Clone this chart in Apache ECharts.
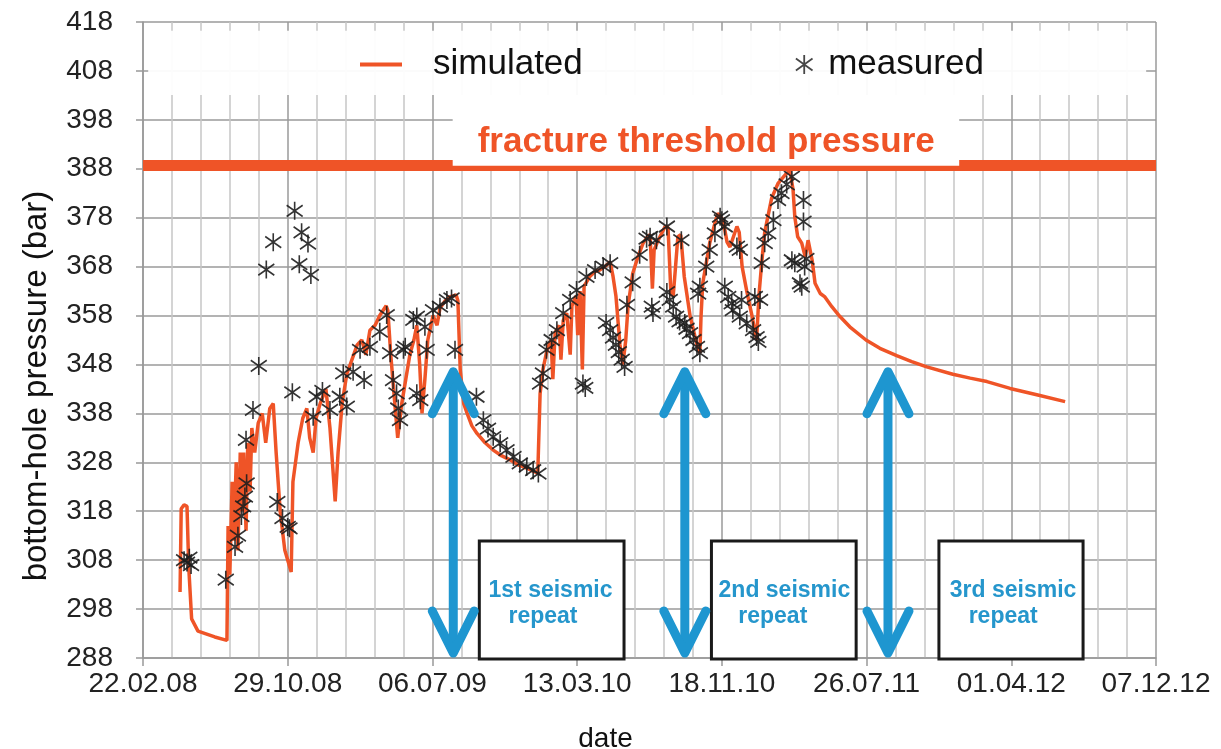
<!DOCTYPE html>
<html><head><meta charset="utf-8">
<script src="https://cdn.jsdelivr.net/npm/echarts@6/dist/echarts.min.js"></script>
<style>html,body{margin:0;padding:0;background:#fff}#c{width:1221px;height:749px}</style>
</head><body><div id="c"></div>
<script>
// x values are days since 22.02.08
const xTickLabels = ['22.02.08','29.10.08','06.07.09','13.03.10','18.11.10','26.07.11','01.04.12','07.12.12'];
const xMin = 0, xMax = 1750, xStep = 250;
const yMin = 288, yMax = 418, yStep = 10;

const simulated = [[64,301.5],[66,318.5],[71,319.3],[76,319],[79,306.6],[84,296],[95,293.5],[124,292.3],[145,291.6],[147,315],[150,305],[154,324],[157,312],[161,328],[164,310],[168,330],[171,318],[174,330],[178,314],[181,332],[185,322],[188,335],[193,330],[199,336],[206,338],[212,332],[219,339],[225,340],[230,330],[237,318],[245,310],[256,305.6],[259,324],[268,332],[276,337],[283,339],[288,333],[294,330],[299,337],[306,340],[316,343],[323,335],[332,320],[337,330],[344,340],[352,346],[361,349],[370,352],[378,353],[385,350],[392,355],[401,356],[409,358],[420,360],[423,359],[428,350],[435,340],[440,333],[447,340],[454,345],[461,350],[468,353],[473,356],[478,348],[482,338],[487,345],[492,353],[501,358],[508,356],[513,359.5],[522,361],[530,361.8],[541,362.2],[544,361],[548,347],[554,340],[560,338],[568,335.5],[577,333.9],[591,332],[605,330.5],[620,329.3],[634,328.5],[648,327.5],[663,326.8],[674,326.2],[682,325.8],[686,342],[691,347],[698,351],[705,353],[708,345],[712,354.5],[719,356],[722,349],[726,357],[732,358.5],[738,350],[741,360],[748,362],[751,354],[755,363],[759,347],[762,364],[772,366],[781,367],[789,367.3],[798,368],[807,369],[812,366],[817,362],[824,352],[829,348],[834,353],[838,360],[846,366.6],[855,370],[864,372.8],[872,374.2],[876,374.5],[880,363.5],[883,371.4],[890,373.4],[902,376.2],[907,376],[912,362.5],[916,362],[920,368],[924,374.1],[929,374.5],[935,366],[945,358],[957,352],[962,350.3],[964,357.8],[967,364.6],[979,372.8],[988,376.9],[993,378.9],[1002,377.5],[1009,373],[1014,372],[1026,376.2],[1030,375],[1035,368],[1043,363],[1052,358],[1060,353],[1064,362],[1069,369],[1074,375],[1086,382],[1097,385],[1112,387.1],[1118,387.4],[1123,383.7],[1126,378.2],[1131,374.1],[1138,372.8],[1144,370],[1149,373.4],[1152,373],[1156,369.3],[1161,364.6],[1170,362.5],[1178,361.8],[1190,359.8],[1204,357.8],[1221,355.7],[1249,353],[1273,351.3],[1302,349.8],[1328,348.6],[1354,347.5],[1399,346],[1429,345.2],[1458,344.5],[1498,343.1],[1544,341.8],[1593,340.4]];

const measured = [[71,308],[76,307.5],[80,308.5],[83,307],[143,304],[159,310.7],[164,313],[170,317],[173,319],[176,321],[179,323.7],[178,332.6],[190,338.7],[200,347.7],[213,367.4],[225,373],[232,319.9],[241,316.6],[250,314.8],[253,314.5],[258,342.3],[262,379.4],[274,375],[285,372.7],[270,368.5],[290,366.3],[294,337.3],[300,341.4],[310,342.6],[323,338.7],[340,341.4],[346,346.2],[352,339.4],[363,346.5],[375,351],[382,344.8],[392,351.6],[409,354.7],[421,358.1],[427,350.3],[432,344.8],[438,342.1],[441,339],[444,336.6],[450,351],[453,351.6],[467,357.1],[473,357.8],[473,342.1],[479,340.7],[487,355.7],[490,351],[501,359.1],[513,359.8],[525,361.2],[533,361.5],[539,351],[576,341.4],[588,336.6],[596,334.9],[605,333.2],[617,331.9],[628,330.5],[640,329.1],[651,327.8],[663,327.1],[674,326.4],[683,325.7],[686,344.1],[691,346.2],[697,351],[706,353],[715,355],[726,358.5],[738,361.2],[749,363.2],[760,344.1],[764,343.2],[766,365.9],[781,367.3],[795,368],[807,368.7],[800,356.5],[807,355],[812,353.5],[817,352],[822,350.5],[827,349],[832,347.5],[836,360.2],[846,364.8],[858,370.4],[870,373.7],[876,374.1],[879,359.8],[881,358.5],[887,373.4],[905,376.2],[930,373.4],[905,362.8],[910,361.2],[916,359.8],[921,357.8],[927,356.8],[936,356.5],[939,355.3],[945,354.4],[951,353],[957,351.6],[962,350.3],[959,362.5],[962,363.9],[973,368],[979,371.4],[988,374.8],[997,378.2],[1000,377.5],[1005,376.2],[1026,372.1],[1031,371.4],[1005,363.9],[1011,361.8],[1017,360.5],[1019,359.1],[1031,357.8],[1043,356.4],[1054,355],[1060,353.6],[1063,352.6],[1034,361.2],[1057,361.8],[1066,361.2],[1069,368.7],[1074,372.8],[1080,374.8],[1089,377.5],[1097,381.6],[1103,383],[1112,384.8],[1121,386.4],[1141,381.6],[1141,377.2],[1121,369.3],[1126,368.7],[1146,369.6],[1143,368],[1135,364.6],[1138,363.9]];

const thresholdPressure = 388.8;
const thresholdLabel = 'fracture threshold pressure';
const thresholdBoxDays = [535, 1410], thresholdBoxBar = [388.6, 403.1];
const thresholdLabelPos = [973, 393.3];
const legendBoxDays = [9, 1733], legendBoxBar = [403.1, 416.2];

const seismicArrowDays = [536, 936, 1287];
const seismicArrowBar = [289, 346.5];
const seismicBoxDays = [[581, 831], [982, 1232], [1375, 1624]];
const seismicBoxBar = [287.8, 311.9];
const seismicLine1 = ['1st seismic', '2nd seismic', '3rd seismic'];
const seismicLine1Pos = [[704, 301.7], [1108, 301.7], [1503, 301.7]];
const seismicLine2 = ['repeat', 'repeat', 'repeat'];
const seismicLine2Pos = [[691, 296.4], [1088, 296.4], [1486, 296.4]];

const ORANGE = '#EF5427', BLUE = '#1E96D0', BLUE_TXT = '#2596CC';
const FONT = '"Liberation Sans", Arial, sans-serif';
const STAR = 'path://M0,-8L0,8M-7,-5L7,5M-7,5L7,-5';

const chart = echarts.init(document.getElementById('c'), null, {renderer: 'canvas'});
chart.setOption({
  animation: false,
  backgroundColor: '#fff',
  textStyle: {fontFamily: FONT},
  grid: {left: 143, right: 65, top: 22, bottom: 91, containLabel: false, outerBoundsMode: 'none'},
  legend: [
    {data: ['simulated'], left: 355, top: 42, z: 100, itemWidth: 42, itemHeight: 4, icon: 'rect',
     itemStyle: {color: ORANGE},
     textStyle: {fontSize: 35, color: '#111', fontFamily: FONT, padding: [0, 0, 0, 26]}},
    {data: ['measured'], left: 790, top: 42, z: 100, itemWidth: 18, itemHeight: 19,
     itemStyle: {color: 'rgba(0,0,0,0)', borderColor: '#333', borderWidth: 1.8},
     textStyle: {fontSize: 35, color: '#111', fontFamily: FONT, padding: [0, 0, 0, 10]}}
  ],
  xAxis: {
    type: 'value', min: xMin, max: xMax, interval: xStep,
    name: 'date', nameLocation: 'middle', nameGap: 67,
    nameTextStyle: {fontSize: 28, color: '#111', fontFamily: FONT, padding: [0, 88, 0, 0]},
    axisLine: {show: true, onZero: false, lineStyle: {color: '#999', width: 1.5}},
    axisTick: {show: true, length: 8, lineStyle: {color: '#999', width: 1.5}},
    minorTick: {show: false, splitNumber: 5},
    axisLabel: {fontSize: 28, color: '#222', margin: 12, fontFamily: FONT,
      formatter: v => xTickLabels[Math.round(v / xStep)] || ''},
    splitLine: {show: true, lineStyle: {color: '#9a9a9a', width: 1.5}},
    minorSplitLine: {show: true, lineStyle: {color: '#c6c6c6', width: 1.5}}
  },
  yAxis: {
    type: 'value', min: yMin, max: yMax, interval: yStep,
    name: 'bottom-hole pressure (bar)', nameLocation: 'middle', nameGap: 90,
    nameTextStyle: {fontSize: 33, color: '#111', fontFamily: FONT, padding: [0, 92, 0, 0]},
    axisLine: {show: true, lineStyle: {color: '#999', width: 1.5}},
    axisTick: {show: true, length: 7, lineStyle: {color: '#999', width: 1.5}},
    axisLabel: {fontSize: 28, color: '#222', margin: 30, fontFamily: FONT},
    splitLine: {show: true, lineStyle: {color: '#9a9a9a', width: 1.5}}
  },
  series: [
    {name: 'threshold', type: 'line', data: [], silent: true,
     markLine: {silent: true, symbol: 'none', label: {show: false},
       lineStyle: {color: ORANGE, width: 11, type: 'solid'},
       data: [{yAxis: thresholdPressure}]}},
    {name: 'simulated', type: 'line', data: simulated, showSymbol: false, symbol: 'none',
     lineStyle: {color: ORANGE, width: 3.5}, itemStyle: {color: ORANGE}, z: 3},
    {name: 'measured', type: 'scatter', data: measured, symbol: STAR, symbolSize: [16, 18],
     itemStyle: {color: 'rgba(0,0,0,0)', borderColor: '#1e1e1e', borderWidth: 1.7, opacity: 0.9}, z: 4}
  ]
});

function px(d) { return chart.convertToPixel({gridIndex: 0}, d); }
function rectFrom(xr, yr) {
  const a = px([xr[0], yr[1]]), b = px([xr[1], yr[0]]);
  return {x: a[0], y: a[1], width: b[0] - a[0], height: b[1] - a[1]};
}
const g = [];
g.push({type: 'rect', z: 50, shape: rectFrom(legendBoxDays, legendBoxBar), style: {fill: 'rgba(255,255,255,0.94)'}});
g.push({type: 'rect', z: 50, shape: rectFrom(thresholdBoxDays, thresholdBoxBar), style: {fill: '#fff'}});
const tp = px(thresholdLabelPos);
g.push({type: 'text', z: 60, style: {text: thresholdLabel, x: tp[0], y: tp[1], fill: ORANGE,
  font: 'bold 35px ' + FONT, align: 'center', verticalAlign: 'middle'}});
seismicBoxDays.forEach((xr, i) => {
  g.push({type: 'rect', z: 50, shape: rectFrom(xr, seismicBoxBar), style: {fill: '#fff', stroke: '#1a1a1a', lineWidth: 3}});
  const p1 = px(seismicLine1Pos[i]), p2 = px(seismicLine2Pos[i]);
  g.push({type: 'text', z: 60, style: {text: seismicLine1[i], x: p1[0], y: p1[1], fill: BLUE_TXT,
    font: 'bold 23px ' + FONT, align: 'center', verticalAlign: 'middle'}});
  g.push({type: 'text', z: 60, style: {text: seismicLine2[i], x: p2[0], y: p2[1], fill: BLUE_TXT,
    font: 'bold 23px ' + FONT, align: 'center', verticalAlign: 'middle'}});
});
seismicArrowDays.forEach(d => {
  const top = px([d, seismicArrowBar[1]]), bot = px([d, seismicArrowBar[0]]);
  const st = {stroke: BLUE, lineWidth: 9, lineCap: 'round', lineJoin: 'round', fill: 'none'};
  const hw = 21, hh = 42;
  g.push({type: 'line', z: 55, shape: {x1: top[0], y1: top[1] + 3, x2: bot[0], y2: bot[1] - 3}, style: st});
  g.push({type: 'polyline', z: 55, shape: {points: [[top[0] - hw, top[1] + hh], [top[0], top[1]], [top[0] + hw, top[1] + hh]]}, style: st});
  g.push({type: 'polyline', z: 55, shape: {points: [[bot[0] - hw, bot[1] - hh], [bot[0], bot[1]], [bot[0] + hw, bot[1] - hh]]}, style: st});
});
chart.setOption({graphic: g});
</script></body></html>
